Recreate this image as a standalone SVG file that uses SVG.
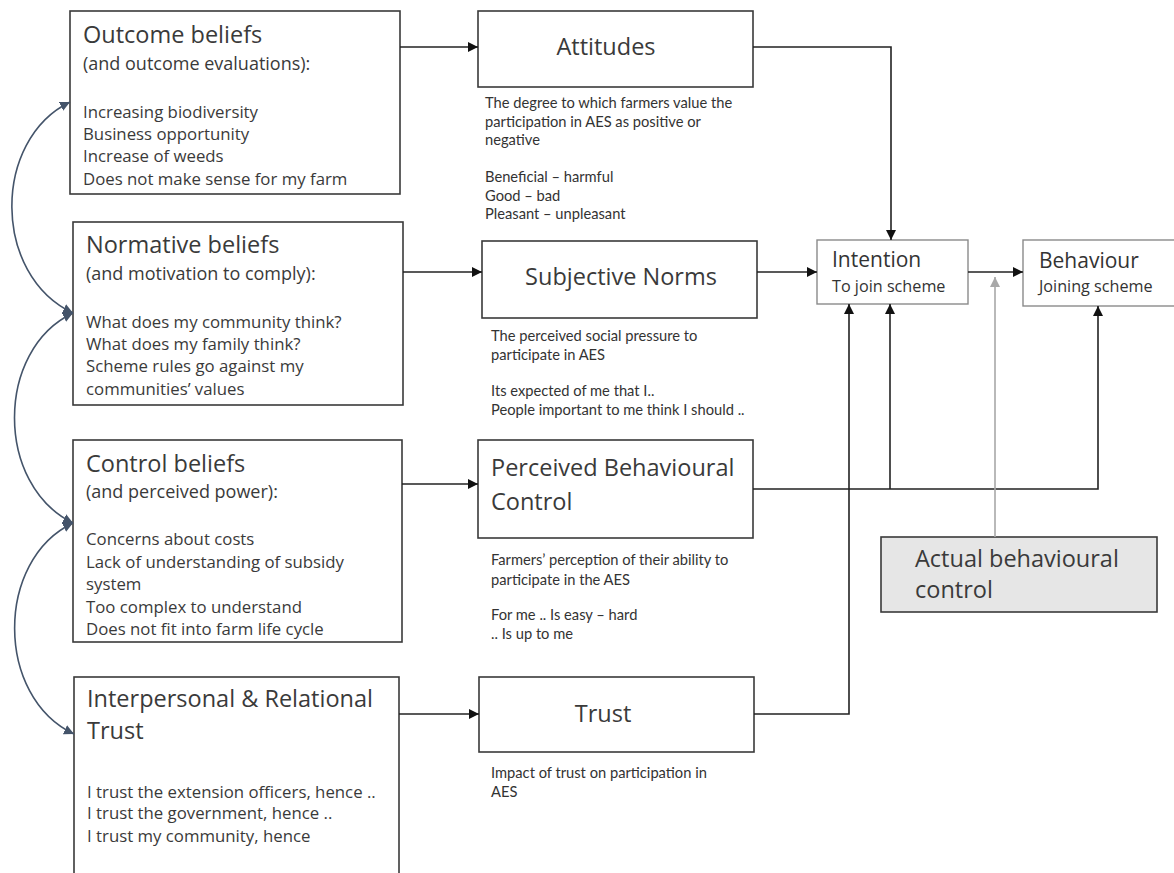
<svg xmlns="http://www.w3.org/2000/svg" width="1174" height="873" viewBox="0 0 1174 873">
  <style>
    .box { fill: #ffffff; stroke: #3a3a3a; stroke-width: 1.6; }
    .lbox { fill: #ffffff; stroke: #8a8a8a; stroke-width: 1.4; }
    .gbox { fill: #e6e6e6; stroke: #3a3a3a; stroke-width: 1.6; }
    .title { font-family: "Open Sans", "Noto Sans", sans-serif; font-size: 23.5px; fill: #3a3a3a; }
    .sub { font-family: "Open Sans", "Noto Sans", sans-serif; font-size: 18px; fill: #3a3a3a; }
    .item { font-family: "Open Sans", "Noto Sans", sans-serif; font-size: 16.8px; fill: #3a3a3a; }
    .desc { font-family: Lato, "Liberation Sans", sans-serif; font-size: 14.7px; fill: #333333; }
    .small { font-family: "Open Sans", "Noto Sans", sans-serif; font-size: 21px; fill: #333333; }
    .small2 { font-family: "Open Sans", "Noto Sans", sans-serif; font-size: 16.2px; fill: #333333; }
    .line { fill: none; stroke: #222222; stroke-width: 1.6; }
    .gline { fill: none; stroke: #a8a8a8; stroke-width: 1.6; }
    .curve { fill: none; stroke: #44546a; stroke-width: 1.6; }
  </style>
  <defs>
    <marker id="arrow" viewBox="0 0 10 10" refX="10" refY="5" markerWidth="10" markerHeight="10" markerUnits="userSpaceOnUse" orient="auto">
      <path d="M0,0 L10,5 L0,10 z" fill="#111111"/>
    </marker>
    <marker id="garrow" viewBox="0 0 10 10" refX="10" refY="5" markerWidth="10" markerHeight="10" markerUnits="userSpaceOnUse" orient="auto">
      <path d="M0,0 L10,5 L0,10 z" fill="#a8a8a8"/>
    </marker>
    <marker id="barrow" viewBox="0 0 10 10" refX="10" refY="5" markerWidth="10" markerHeight="10" markerUnits="userSpaceOnUse" orient="auto-start-reverse">
      <path d="M0,0 L10,5 L0,10 z" fill="#44546a"/>
    </marker>
  </defs>

  <!-- Belief boxes (left column) -->
  <g id="outcome-beliefs">
    <rect class="box" x="70" y="11" width="330" height="183"/>
    <text class="title" x="83" y="43">Outcome beliefs</text>
    <text class="sub" x="83" y="70">(and outcome evaluations):</text>
    <text class="item" x="83" y="118">Increasing biodiversity</text>
    <text class="item" x="83" y="140">Business opportunity</text>
    <text class="item" x="83" y="162">Increase of weeds</text>
    <text class="item" x="83" y="185">Does not make sense for my farm</text>
  </g>

  <g id="normative-beliefs">
    <rect class="box" x="73" y="222" width="330" height="183"/>
    <text class="title" x="86" y="253">Normative beliefs</text>
    <text class="sub" x="86" y="280">(and motivation to comply):</text>
    <text class="item" x="86" y="328">What does my community think?</text>
    <text class="item" x="86" y="350">What does my family think?</text>
    <text class="item" x="86" y="372">Scheme rules go against my</text>
    <text class="item" x="86" y="395">communities’ values</text>
  </g>

  <g id="control-beliefs">
    <rect class="box" x="73" y="440" width="329" height="202"/>
    <text class="title" x="86" y="472">Control beliefs</text>
    <text class="sub" x="86" y="498">(and perceived power):</text>
    <text class="item" x="86" y="545">Concerns about costs</text>
    <text class="item" x="86" y="568">Lack of understanding of subsidy</text>
    <text class="item" x="86" y="590">system</text>
    <text class="item" x="86" y="613">Too complex to understand</text>
    <text class="item" x="86" y="635">Does not fit into farm life cycle</text>
  </g>

  <g id="interpersonal-trust">
    <rect class="box" x="74" y="677" width="325" height="210"/>
    <text class="title" x="87" y="707" font-size="25">Interpersonal &amp; Relational</text>
    <text class="title" x="87" y="739" font-size="25">Trust</text>
    <text class="item" x="87" y="798">I trust the extension officers, hence ..</text>
    <text class="item" x="87" y="819">I trust the government, hence ..</text>
    <text class="item" x="87" y="842">I trust my community, hence</text>
  </g>

  <!-- Construct boxes (middle column) -->
  <g id="attitudes">
    <rect class="box" x="478" y="11" width="275" height="76"/>
    <text class="title" x="606" y="55" text-anchor="middle">Attitudes</text>
    <text class="desc" x="485" y="108">The degree to which farmers value the</text>
    <text class="desc" x="485" y="127">participation in AES as positive or</text>
    <text class="desc" x="485" y="145">negative</text>
    <text class="desc" x="485" y="182">Beneficial – harmful</text>
    <text class="desc" x="485" y="201">Good – bad</text>
    <text class="desc" x="485" y="219">Pleasant – unpleasant</text>
  </g>

  <g id="subjective-norms">
    <rect class="box" x="482" y="241" width="275" height="77"/>
    <text class="title" x="621" y="285" text-anchor="middle">Subjective Norms</text>
    <text class="desc" x="491" y="341">The perceived social pressure to</text>
    <text class="desc" x="491" y="360">participate in AES</text>
    <text class="desc" x="491" y="396">Its expected of me that I..</text>
    <text class="desc" x="491" y="415">People important to me think I should ..</text>
  </g>

  <g id="perceived-behavioural-control">
    <rect class="box" x="478" y="440" width="275" height="98"/>
    <text class="title" x="491" y="476">Perceived Behavioural</text>
    <text class="title" x="491" y="510">Control</text>
    <text class="desc" x="491" y="565">Farmers’ perception of their ability to</text>
    <text class="desc" x="491" y="585">participate in the AES</text>
    <text class="desc" x="491" y="620">For me .. Is easy – hard</text>
    <text class="desc" x="491" y="639">.. Is up to me</text>
  </g>

  <g id="trust">
    <rect class="box" x="479" y="677" width="275" height="75"/>
    <text class="title" x="603" y="722" text-anchor="middle">Trust</text>
    <text class="desc" x="491" y="778">Impact of trust on participation in</text>
    <text class="desc" x="491" y="797">AES</text>
  </g>

  <!-- Outcome boxes (right) -->
  <g id="intention">
    <rect class="lbox" x="817" y="240" width="151" height="64"/>
    <text class="small" x="832" y="267">Intention</text>
    <text class="small2" x="832" y="292">To join scheme</text>
  </g>

  <g id="behaviour">
    <rect class="lbox" x="1023" y="240" width="160" height="66"/>
    <text class="small" x="1039" y="268">Behaviour</text>
    <text class="small2" x="1039" y="292">Joining scheme</text>
  </g>

  <g id="actual-behavioural-control">
    <rect class="gbox" x="881" y="537" width="276" height="75"/>
    <text class="title" x="915" y="567" font-size="24.5">Actual behavioural</text>
    <text class="title" x="915" y="598" font-size="24.5">control</text>
  </g>

  <!-- Connectors -->
  <g id="connectors">
    <path class="line" d="M400 47 H478" marker-end="url(#arrow)"/>
    <path class="line" d="M753 47 H891 V240" marker-end="url(#arrow)"/>
    <path class="line" d="M403 272 H482" marker-end="url(#arrow)"/>
    <path class="line" d="M757 272 H817" marker-end="url(#arrow)"/>
    <path class="line" d="M968 272 H1023" marker-end="url(#arrow)"/>
    <path class="line" d="M402 484 H478" marker-end="url(#arrow)"/>
    <path class="line" d="M753 489 H1098 V306" marker-end="url(#arrow)"/>
    <path class="line" d="M890 489 V304" marker-end="url(#arrow)"/>
    <path class="line" d="M399 714 H479" marker-end="url(#arrow)"/>
    <path class="line" d="M754 714 H849 V304" marker-end="url(#arrow)"/>
    <path class="gline" d="M995 537 V277" marker-end="url(#garrow)"/>
    <path class="curve" d="M70 102 C-8 140, -8 275, 73 313" marker-start="url(#barrow)" marker-end="url(#barrow)"/>
    <path class="curve" d="M73 313 C-5 350, -5 485, 73 523" marker-start="url(#barrow)" marker-end="url(#barrow)"/>
    <path class="curve" d="M73 523 C-5 560, -5 697, 74 734" marker-start="url(#barrow)" marker-end="url(#barrow)"/>
  </g>
</svg>
